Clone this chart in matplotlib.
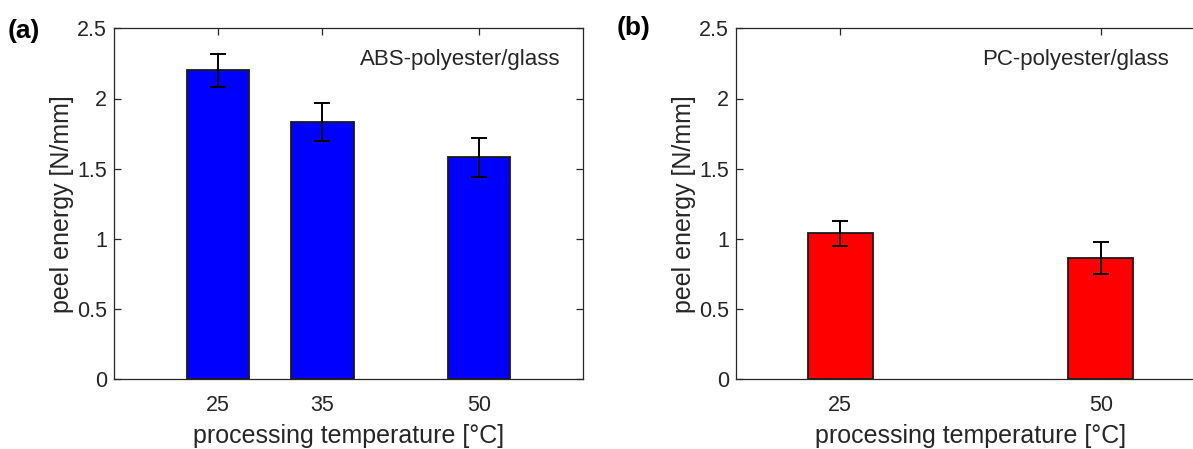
import matplotlib
matplotlib.use("Agg")
import matplotlib.pyplot as plt

plt.rcParams['font.family'] = ['Liberation Sans', 'DejaVu Sans']

# data
temps_a = [25, 35, 50]
energy_a = [2.20, 1.835, 1.58]
err_a = [0.12, 0.135, 0.14]

temps_b = [25, 50]
energy_b = [1.04, 0.865]
err_b = [0.09, 0.114]

yticks = [0, 0.5, 1, 1.5, 2, 2.5]
ytick_labels = ['0', '0.5', '1', '1.5', '2', '2.5']
xlabel = 'processing temperature [°C]'
ylabel = 'peel energy [N/mm]'

W, H = 1193, 449
fig = plt.figure(figsize=(W / 100, H / 100), dpi=100)

axc = '#262626'


def style(ax, xt):
    ax.set_xlim(15, 60)
    ax.set_ylim(0, 2.5)
    ax.set_xticks(xt)
    ax.set_xticklabels([str(t) for t in xt])
    ax.set_yticks(yticks)
    ax.set_yticklabels(ytick_labels)
    ax.tick_params(axis='both', direction='in', length=5, width=0.9,
                   colors=axc, labelsize=15.5, top=True, right=True)
    ax.tick_params(axis='y', pad=5)
    ax.tick_params(axis='x', pad=11)
    for s in ax.spines.values():
        s.set_color(axc)
        s.set_linewidth(0.9)
    ax.set_xlabel(xlabel, fontsize=18, color=axc, labelpad=6)
    ax.set_ylabel(ylabel, fontsize=18, color=axc, labelpad=2)


ax1 = fig.add_axes([114 / W, 1 - 379.3 / H, 469 / W, 351 / H])
ax1.bar(temps_a, energy_a, width=6, color='#0000ff', edgecolor='#1a1a1a',
        linewidth=1.3, zorder=2)
ax1.errorbar(temps_a, energy_a, yerr=err_a, fmt='none', ecolor='black',
             elinewidth=1.4, capsize=5.5, capthick=1.4, zorder=3)
style(ax1, temps_a)
ax1.text(57.8, 2.239, 'ABS-polyester/glass', fontsize=16, color=axc,
         ha='right', va='baseline')

ax2 = fig.add_axes([736 / W, 1 - 379.3 / H, 469 / W, 351 / H])
ax2.bar(temps_b, energy_b, width=6.25, color='#ff0000', edgecolor='#1a1a1a',
        linewidth=1.3, zorder=2)
ax2.errorbar(temps_b, energy_b, yerr=err_b, fmt='none', ecolor='black',
             elinewidth=1.4, capsize=5.5, capthick=1.4, zorder=3)
style(ax2, temps_b)
ax2.text(56.5, 2.239, 'PC-polyester/glass', fontsize=16, color=axc,
         ha='right', va='baseline')

fig.text(8 / W, 1 - 31 / H, '(a)', fontsize=19, fontweight='bold',
         ha='left', va='center', color='black')
fig.text(617 / W, 1 - 28 / H, '(b)', fontsize=19, fontweight='bold',
         ha='left', va='center', color='black')

fig.savefig('out.png', dpi=100)
